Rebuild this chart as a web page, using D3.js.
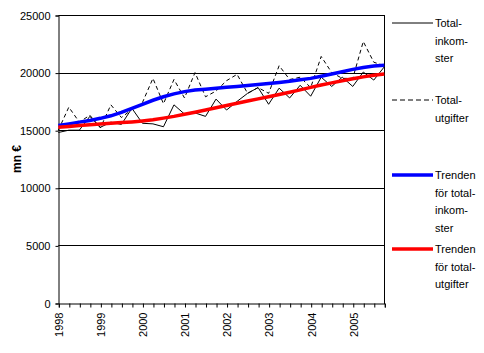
<!DOCTYPE html>
<html><head><meta charset="utf-8">
<script src="https://cdn.jsdelivr.net/npm/d3@7"></script>
<style>body{margin:0;background:#fff}svg{display:block;font-family:Arial,"Liberation Sans",sans-serif}</style>
</head><body>
<script>
const quarters = d3.range(32).map(i => (1998 + Math.floor(i/4)) + "Q" + (i%4+1));
const yearLabels = ["1998","1999","2000","2001","2002","2003","2004","2005"];
const yTicks = [0,5000,10000,15000,20000,25000];
const inkomster = [14800,15000,15000,16200,15250,15700,15500,16900,15600,15550,15300,17200,16400,16500,16200,17700,16750,17500,18200,18700,17250,18650,17800,18900,17950,19600,18800,19600,18800,20050,19350,20500];
const utgifter = [15000,17000,15700,16300,15200,17200,16100,16800,17400,19500,17300,19400,17800,20000,17900,18400,19300,19850,18200,18700,18200,20600,19400,19600,18700,21400,20000,19500,19500,22700,20900,20600];
const trendInk = [15420,15550,15700,15850,16030,16250,16550,16900,17250,17600,17900,18150,18350,18480,18560,18640,18720,18800,18880,18960,19050,19150,19250,19370,19500,19680,19880,20080,20280,20450,20570,20630];
const trendUtg = [15250,15330,15410,15480,15540,15600,15660,15720,15800,15900,16050,16200,16380,16560,16750,16950,17150,17340,17530,17720,17910,18100,18300,18500,18720,18920,19110,19290,19470,19630,19770,19880];
const legendItems = [
  {lines:["Total-","inkom-","ster"], color:"#000", width:1, dash:null},
  {lines:["Total-","utgifter"], color:"#000", width:1, dash:"5,3"},
  {lines:["Trenden","för total-","inkom-","ster"], color:"#0000ff", width:3.5, dash:null},
  {lines:["Trenden","för total-","utgifter"], color:"#ff0000", width:3.5, dash:null}
];

const W=484,H=353;
const L=58.3,R=384.3,T=15,B=303;
const svg=d3.select("body").append("svg").attr("width",W).attr("height",H);
const x=d3.scalePoint().domain(quarters).range([L,R]);
const y=d3.scaleLinear().domain([0,25000]).range([B,T]);

// gridlines
svg.append("g").selectAll("line").data(yTicks.slice(1)).join("line")
  .attr("x1",L).attr("x2",R).attr("y1",d=>Math.round(y(d))+0.5).attr("y2",d=>Math.round(y(d))+0.5)
  .attr("stroke","#000").attr("stroke-width",1);
// right border
svg.append("line").attr("x1",Math.round(R)+0.5).attr("x2",Math.round(R)+0.5).attr("y1",T).attr("y2",B+1).attr("stroke","#000");

// y axis
const ya=svg.append("g").attr("transform",`translate(${Math.round(L)+0.5},0.5)`)
  .call(d3.axisLeft(y).tickValues(yTicks).tickSize(3).tickPadding(5).tickFormat(d3.format("d")));
ya.select(".domain").attr("stroke","#000");
ya.selectAll("text").attr("font-size",11).attr("fill","#000").attr("font-family","Arial, Liberation Sans, sans-serif");

// x axis
const xa=svg.append("g").attr("transform",`translate(0.5,${Math.round(B)+0.5})`)
  .call(d3.axisBottom(x).tickSize(4).tickFormat(d=>d.endsWith("Q1")?d.slice(0,4):""));
xa.select(".domain").attr("stroke","#000");
xa.selectAll("text").attr("font-size",11).attr("fill","#000").attr("font-family","Arial, Liberation Sans, sans-serif")
  .attr("transform","rotate(-90)").attr("text-anchor","end").attr("x",-9).attr("y",0).attr("dy","0.35em");

const line=d3.line().x((d,i)=>x(quarters[i])).y(d=>y(d));
svg.append("path").datum(inkomster).attr("d",line).attr("fill","none").attr("stroke","#000").attr("stroke-width",1);
svg.append("path").datum(utgifter).attr("d",line).attr("fill","none").attr("stroke","#000").attr("stroke-width",1).attr("stroke-dasharray","4,3");
svg.append("path").datum(trendInk).attr("d",line).attr("fill","none").attr("stroke","#0000ff").attr("stroke-width",3.5);
svg.append("path").datum(trendUtg).attr("d",line).attr("fill","none").attr("stroke","#ff0000").attr("stroke-width",3.5);

// y label
svg.append("text").attr("transform","translate(21,159) rotate(-90)").attr("text-anchor","middle")
  .attr("font-size",12).attr("font-weight","bold").text("mn €");

// legend
const legY=[23,100,175,249];
const lg=svg.append("g");
legendItems.forEach((it,k)=>{
  const g=lg.append("g").attr("transform",`translate(0,${legY[k]})`);
  g.append("line").attr("x1",392).attr("x2",433).attr("y1",0).attr("y2",0)
    .attr("stroke",it.color).attr("stroke-width",it.width).attr("stroke-dasharray",it.dash);
  g.selectAll("text").data(it.lines).join("text").attr("x",435).attr("y",(d,i)=>i*17.7)
    .attr("dy","0.35em").attr("font-size",11).attr("fill","#000").text(d=>d);
});
</script>
</body></html>
